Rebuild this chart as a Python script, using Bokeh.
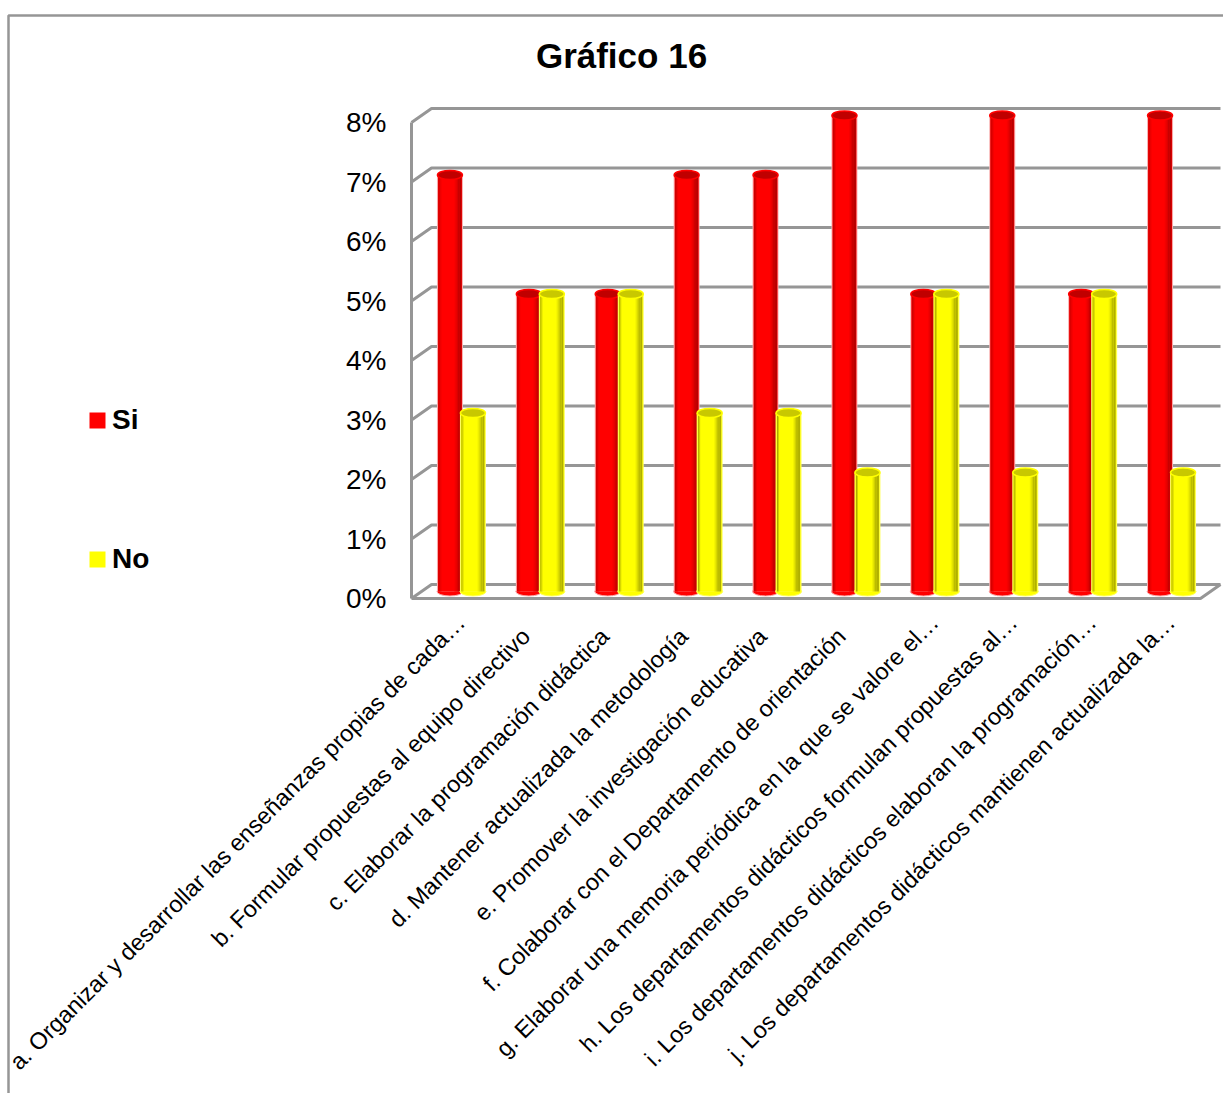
from bokeh.embed import file_html
from bokeh.resources import INLINE
from bokeh.models import (ColumnDataSource, FixedTicker, Label, Legend, LegendItem,
                          LinearAxis, PrintfTickFormatter, Range1d)
from bokeh.plotting import figure

TITLE = "Gráfico 16"
CATEGORIES = [
    "a. Organizar y desarrollar las enseñanzas propias de cada…",
    "b. Formular propuestas al equipo directivo",
    "c. Elaborar la programación didáctica",
    "d. Mantener actualizada la metodología",
    "e. Promover la investigación educativa",
    "f. Colaborar con el Departamento de orientación",
    "g. Elaborar una memoria periódica en la que se valore el…",
    "h. Los departamentos didácticos formulan propuestas al…",
    "i. Los departamentos didácticos elaboran la programación…",
    "j. Los departamentos didácticos mantienen actualizada la…",
]
SI = [7, 5, 5, 7, 7, 8, 5, 8, 5, 8]
NO = [3, 5, 5, 3, 3, 2, 5, 2, 5, 2]
Y_TICKS = [0, 1, 2, 3, 4, 5, 6, 7, 8]

WIDTH, HEIGHT = 1223, 1093
GRID = "#969696"
FONT = "Liberation Sans"

# the frame fills the page; these map page pixels to axis units
PX_X, PX_Y = 78.9, 59.5
ORIGIN_X, ORIGIN_Y = 421, 591


def to_x(px):
    return (px - ORIGIN_X) / PX_X


def to_y(py):
    return (ORIGIN_Y - py) / PX_Y


DEPTH_X = 10 / PX_X   # half of the box depth, horizontally
DEPTH_Y = 7 / PX_Y    # half of the box depth, vertically
BAR_PX = 25
BAR_W = BAR_PX / PX_X
N = len(CATEGORIES)

y_start, y_end = to_y(HEIGHT), to_y(0)

p = figure(width=WIDTH, height=HEIGHT, output_backend="svg", toolbar_location=None,
           x_range=Range1d(to_x(0), to_x(WIDTH)), y_range=Range1d(y_start, y_end),
           min_border=0, x_axis_type=None, y_axis_type=None, outline_line_color=None,
           background_fill_color="white", border_fill_color="white")
p.grid.visible = False

p.add_layout(Label(x=to_x(621), y=to_y(55), text=TITLE, text_align="center", text_baseline="middle",
                   text_font=FONT, text_font_size="35px", text_font_style="bold", text_color="black"))

# outer chart border: only its top and left edges fall inside the page
p.line([to_x(8), to_x(8), to_x(WIDTH)], [to_y(HEIGHT), to_y(15), to_y(15)],
       line_color=GRID, line_width=2.5)

# back wall, left wall and floor of the 3D box
back_l, front_l = DEPTH_X, -DEPTH_X
back_r, front_r = N + DEPTH_X, N - DEPTH_X
grid_xs, grid_ys = [], []
for v in Y_TICKS:
    grid_xs.append([front_l, back_l, back_r])
    grid_ys.append([v - DEPTH_Y, v + DEPTH_Y, v + DEPTH_Y])
p.multi_line(grid_xs, grid_ys, line_color=GRID, line_width=3)
p.line([front_l, front_l], [-DEPTH_Y, Y_TICKS[-1] - DEPTH_Y], line_color=GRID, line_width=3)
p.line([front_l, front_r, back_r], [-DEPTH_Y, -DEPTH_Y, DEPTH_Y], line_color=GRID, line_width=3)

# y labels follow the front edge of the wall
p.extra_y_ranges = {"front": Range1d(y_start + DEPTH_Y, y_end + DEPTH_Y)}
y_axis = LinearAxis(y_range_name="front", ticker=FixedTicker(ticks=Y_TICKS),
                    formatter=PrintfTickFormatter(format="%d%%"), fixed_location=front_l,
                    axis_line_color=None, major_tick_line_color=None, minor_tick_line_color=None,
                    major_label_standoff=19, major_label_text_font=FONT,
                    major_label_text_font_size="28px", major_label_text_color="black")
p.add_layout(y_axis, "left")


def tick_label(text):
    # complete labels sit a little further from the axis than shortened ones
    return text if text.endswith("…") else text + "\u00a0\u00a0\u00a0"


x_axis = LinearAxis(ticker=FixedTicker(ticks=[i + 0.5 for i in range(N)]), fixed_location=-DEPTH_Y,
                    major_label_overrides={i + 0.5: tick_label(c) for i, c in enumerate(CATEGORIES)},
                    major_label_orientation=0.785398,
                    axis_line_color=None, major_tick_line_color=None, minor_tick_line_color=None,
                    major_label_standoff=14, major_label_text_font=FONT,
                    major_label_text_font_size="23.5px", major_label_text_color="black")
p.add_layout(x_axis, "below")


def cylinders(values, shift_px, main, shades, cap, halo):
    """One column per value: narrow strips give the round shading, ellipses close both ends."""
    xs = [i + 0.5 + shift_px / PX_X for i in range(N)]
    src = ColumnDataSource(dict(x=xs, top=values))
    p.ellipse("x", 0, width=BAR_W + 1 / PX_X, height=9, height_units="screen", source=src,
              fill_color=main, line_color=halo, line_width=1)
    p.vbar("x", top="top", bottom=0, width=BAR_W + 1 / PX_X, source=src,
           fill_color=halo, line_color=None)
    body = p.vbar("x", top="top", bottom=0, width=BAR_W - 1 / PX_X, source=src,
                  fill_color=main, line_color=None)
    for start_px, end_px, color in shades:
        centre = (start_px + end_px) / 2 - BAR_PX / 2
        strip = ColumnDataSource(dict(x=[x + centre / PX_X for x in xs], top=values))
        p.vbar("x", top="top", bottom=0, width=(end_px - start_px) / PX_X, source=strip,
               fill_color=color, line_color=None)
    p.ellipse("x", "top", width=BAR_W, height=9, height_units="screen", source=src,
              fill_color=cap, line_color=main, line_width=1.5)
    return body


RED_SHADES = [(1, 2, "#c80000"), (2, 3, "#d80000"), (3, 4, "#f00000"),
              (17, 18, "#f60000"), (18, 19, "#ea0000"), (19, 20, "#dc0000"),
              (20, 22, "#c80000"), (22, 24, "#b80000")]
YEL_SHADES = [(1, 2, "#a8a800"), (2, 3, "#d0d000"),
              (17, 18, "#f4f400"), (18, 19, "#e4e400"), (19, 20, "#d0d000"),
              (20, 22, "#bcbc00"), (22, 24, "#b0b000")]

red = cylinders(SI, -11, "#ff0000", RED_SHADES, "#c00000", "#f8b0b0")
yel = cylinders(NO, 12, "#ffff00", YEL_SHADES, "#c8c800", "#ffff60")

legend = Legend(items=[LegendItem(label="Si", renderers=[red]), LegendItem(label="No", renderers=[yel])],
                location=(87, HEIGHT - 575), orientation="vertical", spacing=107, padding=0, margin=0,
                glyph_width=20, glyph_height=20, label_standoff=5,
                label_text_font=FONT, label_text_font_size="28px",
                label_text_font_style="bold", label_text_color="black",
                background_fill_alpha=0, border_line_color=None)
p.add_layout(legend, "center")

open("out.html", "w").write(file_html(p, INLINE))
